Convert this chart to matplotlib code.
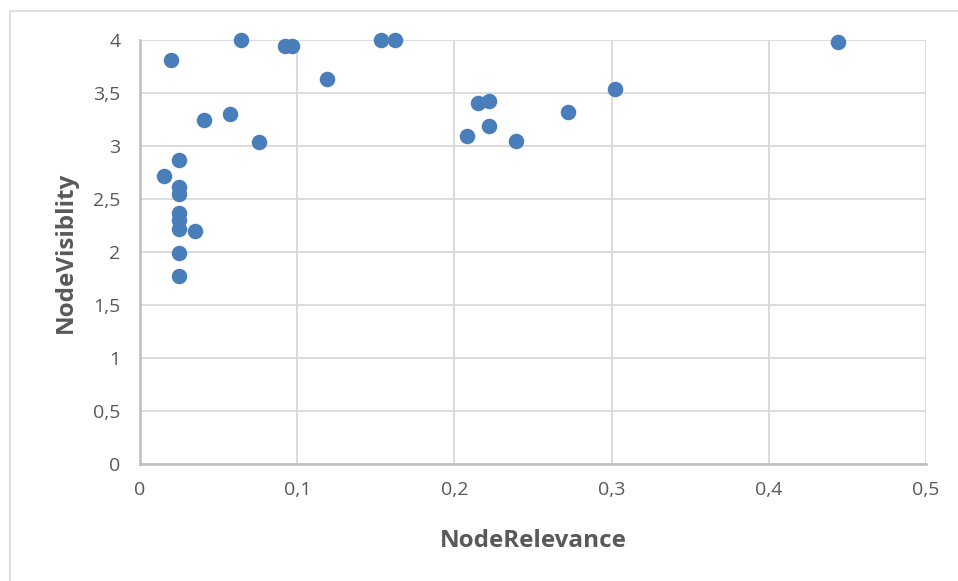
import matplotlib
matplotlib.use('Agg')
import matplotlib.pyplot as plt
from matplotlib.patches import Rectangle
from matplotlib.ticker import FuncFormatter

# NodeRelevance vs NodeVisiblity
relevance = [0.015, 0.020, 0.025, 0.025, 0.025, 0.025, 0.025, 0.025, 0.025, 0.025,
             0.035, 0.041, 0.057, 0.064, 0.076, 0.092, 0.097, 0.119, 0.153, 0.162,
             0.208, 0.215, 0.222, 0.222, 0.239, 0.272, 0.302, 0.444]
visibility = [2.72, 3.81, 2.87, 2.61, 2.55, 2.37, 2.30, 2.22, 1.99, 1.77,
              2.20, 3.25, 3.30, 4.00, 3.04, 3.94, 3.94, 3.63, 4.00, 4.00,
              3.09, 3.41, 3.42, 3.19, 3.05, 3.32, 3.54, 3.98]

xticks = [0, 0.1, 0.2, 0.3, 0.4, 0.5]
yticks = [0, 0.5, 1, 1.5, 2, 2.5, 3, 3.5, 4]

W, H = 958, 581
fig = plt.figure(figsize=(W / 100, H / 100), dpi=100)
plt.rcParams['font.family'] = ['Open Sans', 'DejaVu Sans']

# outer chart-area border (only left and top visible in the crop)
fig.patches.append(Rectangle((9.5 / W, -0.1), 2.0, (H - 10.5) / H + 0.1,
                             transform=fig.transFigure, fill=False,
                             edgecolor='#d9d9d9', lw=1.2))

ax = fig.add_axes([140 / W, 1 - 464 / H, (926 - 140) / W, (464 - 40) / H])
ax.scatter(relevance, visibility, s=125, color='#4a7ebb', zorder=3,
           linewidths=0, clip_on=False)

ax.set_xlim(0, 0.5)
ax.set_ylim(0, 4)
ax.set_xticks(xticks)
ax.set_yticks(yticks)
fmt = FuncFormatter(lambda v, p: ('%g' % v).replace('.', ','))
ax.xaxis.set_major_formatter(fmt)
ax.yaxis.set_major_formatter(fmt)
ax.grid(True, color='#d9d9d9', lw=1.3)
ax.set_axisbelow(True)
for side in ['top', 'right']:
    ax.spines[side].set_visible(False)
for side in ['bottom', 'left']:
    ax.spines[side].set_color('#bfbfbf')
    ax.spines[side].set_linewidth(1.8)
ax.tick_params(length=0, labelsize=14, colors='#595959', pad=12)
ax.tick_params(axis='y', pad=14)

ax.set_xlabel('NodeRelevance', fontsize=17.5, fontweight='bold', color='#595959', labelpad=22)
ax.set_ylabel('NodeVisiblity', fontsize=17.5, fontweight='bold', color='#595959', labelpad=11)

fig.savefig('out.png', dpi=100)
